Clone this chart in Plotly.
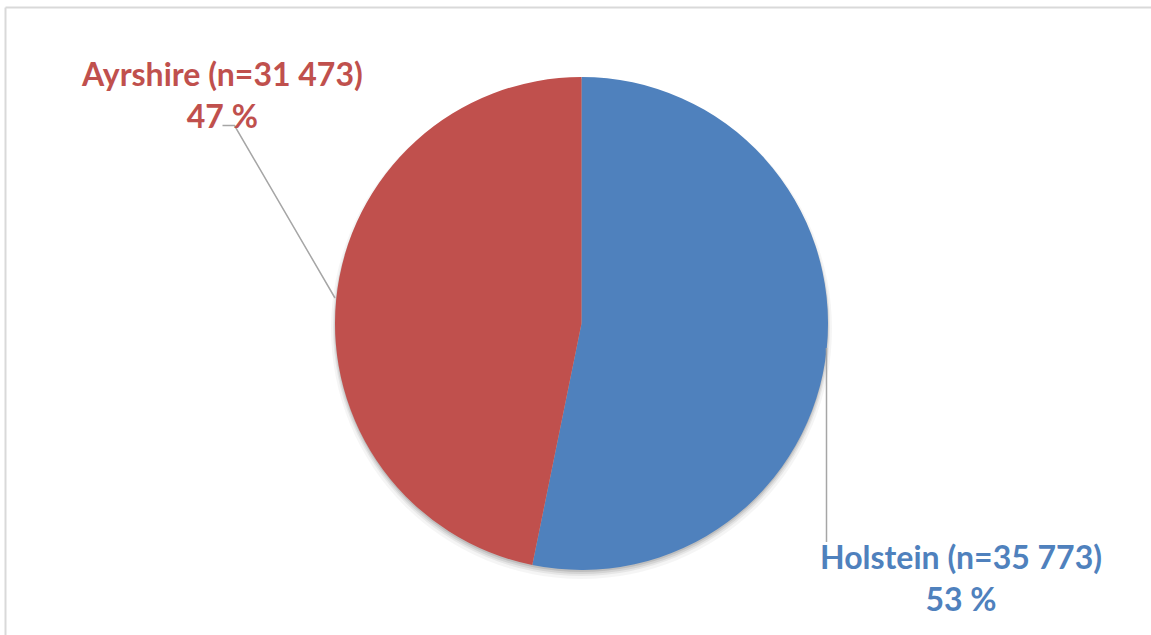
import plotly.graph_objects as go

W, H = 1151, 635

breeds = ["Holstein", "Ayrshire"]
counts = [35773, 31473]
count_labels = ["35 773", "31 473"]
pct_labels = ["53 %", "47 %"]
colors = ["#4F81BD", "#C0504D"]

def px(x):
    return x / W

def py(y):
    return 1 - y / H

# pie geometry (pixels)
cx, cy, r = 581.5, 323.5, 246.5

fig = go.Figure()
fig.add_trace(go.Pie(
    labels=breeds,
    values=counts,
    marker=dict(colors=colors, line=dict(width=0)),
    sort=False,
    direction="clockwise",
    rotation=0,
    textinfo="none",
    hoverinfo="label+value+percent",
    showlegend=False,
    domain=dict(x=[px(cx - r), px(cx + r)], y=[py(cy + r), py(cy - r)]),
))

shapes = []
# soft shadow under pie
for off, grow, a in [(5, 4, 0.04), (4, 2, 0.06), (3, 1, 0.08), (2, 0, 0.10)]:
    shapes.append(dict(type="circle", xref="paper", yref="paper", layer="below",
                       x0=px(cx - r - grow), x1=px(cx + r + grow),
                       y0=py(cy + off + r + grow), y1=py(cy + off - r - grow),
                       fillcolor=f"rgba(0,0,0,{a})", line=dict(width=0)))
# frame (top and left edges visible)
shapes.append(dict(type="line", xref="paper", yref="paper", x0=px(5.5), x1=1.0,
                   y0=py(7.5), y1=py(7.5), line=dict(color="#D9D9D9", width=2)))
shapes.append(dict(type="line", xref="paper", yref="paper", x0=px(5.5), x1=px(5.5),
                   y0=py(7.5), y1=0, line=dict(color="#D9D9D9", width=2)))
# leader lines
lc = "#A6A6A6"
shapes.append(dict(type="path", xref="paper", yref="paper",
                   path=f"M {px(222.5)} {py(125.5)} L {px(234.5)} {py(125.5)} L {px(335)} {py(298)}",
                   line=dict(color=lc, width=1.5)))
shapes.append(dict(type="line", xref="paper", yref="paper",
                   x0=px(826.5), x1=px(826.5), y0=py(348), y1=py(542),
                   line=dict(color=lc, width=1.5)))

font_fam = "Lato, 'Open Sans', sans-serif"
label_pos = {"Holstein": (961, 577), "Ayrshire": (222, 94)}
annotations = []
for b, n, p, c in zip(breeds, count_labels, pct_labels, colors):
    x, y = label_pos[b]
    annotations.append(dict(
        x=px(x), y=py(y), xref="paper", yref="paper", showarrow=False,
        xanchor="center", yanchor="middle", align="center",
        text=f"<b>{b} (n={n})</b><br><b>{p}</b>",
        font=dict(family=font_fam, size=32, color=c),
    ))

fig.update_layout(
    width=W, height=H,
    margin=dict(l=0, r=0, t=0, b=0),
    paper_bgcolor="white",
    plot_bgcolor="white",
    shapes=shapes,
    annotations=annotations,
)

fig.write_html("out.html")
